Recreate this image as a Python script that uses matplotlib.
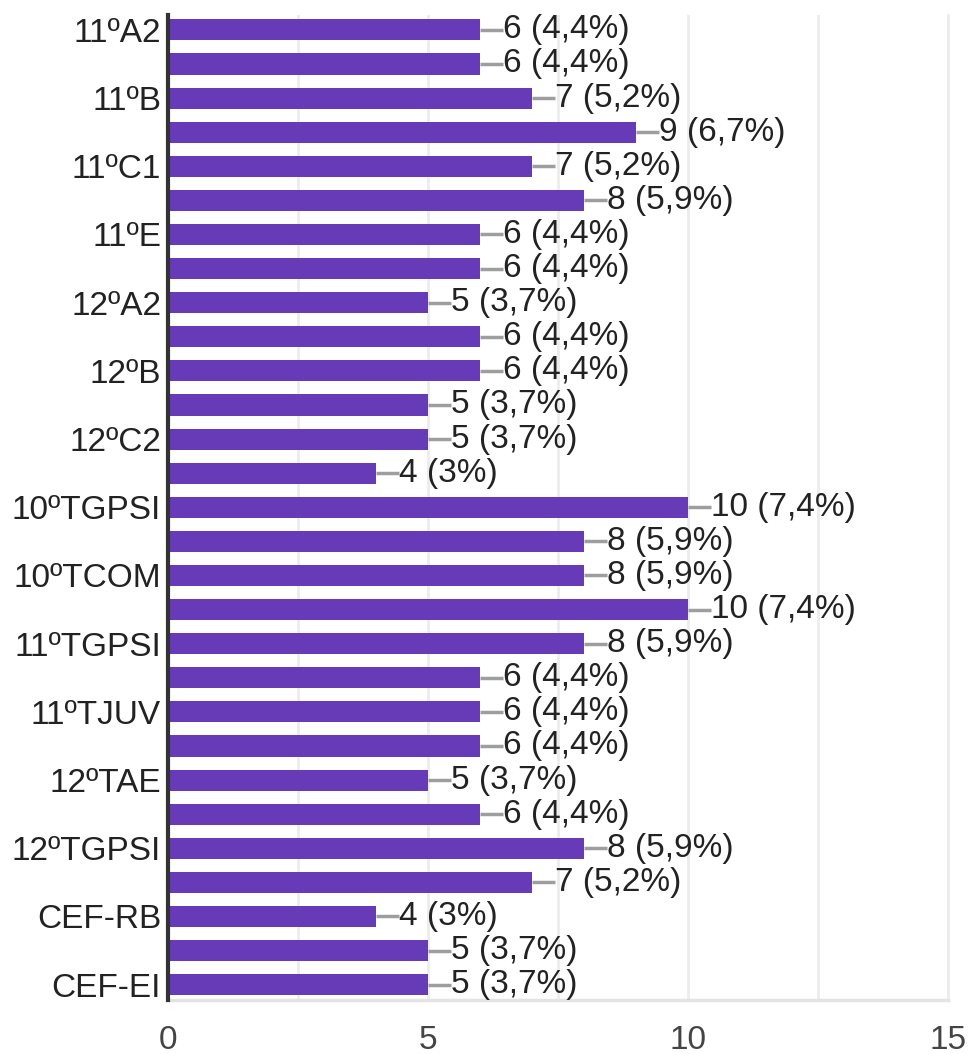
import numpy as np
import matplotlib.pyplot as plt

plt.rcParams['font.family'] = ['Liberation Sans', 'DejaVu Sans']

turmas = ['11ºA2', '', '11ºB', '', '11ºC1', '', '11ºE', '', '12ºA2', '', '12ºB', '', '12ºC2', '',
          '10ºTGPSI', '', '10ºTCOM', '', '11ºTGPSI', '', '11ºTJUV', '', '12ºTAE', '', '12ºTGPSI', '',
          'CEF-RB', '', 'CEF-EI']
respostas = [6, 6, 7, 9, 7, 8, 6, 6, 5, 6, 6, 5, 5, 4, 10, 8, 8, 10, 8, 6, 6, 6, 5, 6, 8, 7, 4, 5, 5]
total = 135
xticks = [0, 5, 10, 15]

fig = plt.figure(figsize=(9.71, 10.54), dpi=100)
ax = fig.add_axes([0.173, 0.0512, 0.803, 0.935])

y = np.arange(len(respostas))
ax.barh(y, respostas, height=0.62, color='#673ab7', zorder=3)

for yi, v in zip(y, respostas):
    pct = round(v / total * 100, 1)
    pct_txt = ('%g' % pct).replace('.', ',')
    ax.plot([v, v + 0.45], [yi, yi], color='#9e9e9e', lw=2.5, zorder=2, solid_capstyle='butt')
    ax.text(v + 0.45, yi, '%d (%s%%)' % (v, pct_txt), va='center', ha='left',
            fontsize=24, color='#222222')

ax.set_xlim(0, 15)
ax.set_ylim(len(respostas) - 0.55, -0.45)
ax.set_yticks(y)
ax.set_yticklabels(turmas, fontsize=24, color='#222222')
ax.set_xticks(xticks)
ax.set_xticklabels([str(t) for t in xticks], fontsize=24, color='#444444')
ax.set_xticks([2.5, 7.5, 12.5], minor=True)
ax.tick_params(axis='both', length=0, which='both')
ax.tick_params(axis='x', pad=18)
ax.tick_params(axis='y', pad=5)

ax.grid(axis='x', which='both', color='#ececec', lw=2, zorder=0)
ax.spines['top'].set_visible(False)
ax.spines['right'].set_color('#ececec')
ax.spines['right'].set_linewidth(2)
ax.spines['bottom'].set_color('#e3e3e3')
ax.spines['bottom'].set_linewidth(2.5)
ax.spines['left'].set_color('#333333')
ax.spines['left'].set_linewidth(3)
ax.spines['left'].set_zorder(4)

fig.savefig('out.png', dpi=100)
